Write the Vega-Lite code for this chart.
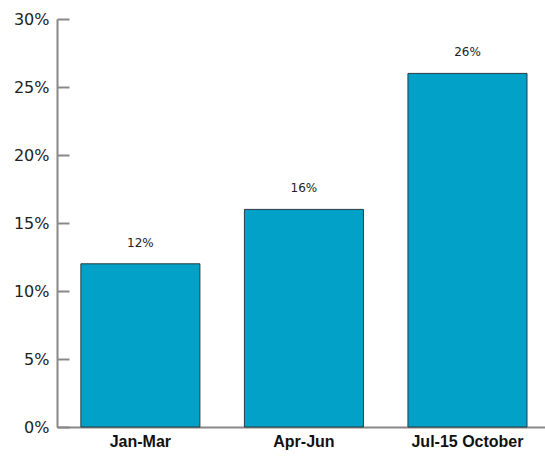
{
  "$schema": "https://vega.github.io/schema/vega-lite/v6.json",
  "width": 488,
  "height": 408,
  "autosize": "none",
  "padding": {"left": 57, "top": 19, "right": 0, "bottom": 32},
  "background": "white",
  "data": {"values": [
    {"period": "Jan-Mar", "value": 0.12},
    {"period": "Apr-Jun", "value": 0.16},
    {"period": "Jul-15 October", "value": 0.26}
  ]},
  "config": {"view": {"stroke": null}},
  "encoding": {
    "x": {"field": "period", "type": "nominal", "sort": null,
      "scale": {"paddingInner": 0.272, "paddingOuter": 0.128, "align": 0.57},
      "axis": {"title": null, "labelAngle": 0, "ticks": false, "domainColor": "#888", "domainWidth": 2,
        "labelFont": "Liberation Sans", "labelFontWeight": "bold", "labelFontSize": 16, "labelColor": "#111", "labelPadding": 6}},
    "y": {"field": "value", "type": "quantitative",
      "scale": {"domain": [0, 0.3]},
      "axis": {"title": null, "values": [0, 0.05, 0.1, 0.15, 0.2, 0.25, 0.3], "grid": false,
        "format": ".0%", "domainColor": "#888", "domainWidth": 2,
        "tickColor": "#888", "tickWidth": 2, "tickSize": -12, "labelPadding": 20,
        "labelFont": "DejaVu Sans", "labelFontSize": 16, "labelColor": "#222"}}
  },
  "layer": [
    {"mark": {"type": "bar", "color": "#02a1c7", "stroke": "#2a3a40", "strokeWidth": 1}},
    {"mark": {"type": "text", "baseline": "bottom", "dy": -14, "font": "DejaVu Sans", "fontSize": 12, "color": "#222"},
     "encoding": {"text": {"field": "value", "type": "quantitative", "format": ".0%"}}}
  ]
}
